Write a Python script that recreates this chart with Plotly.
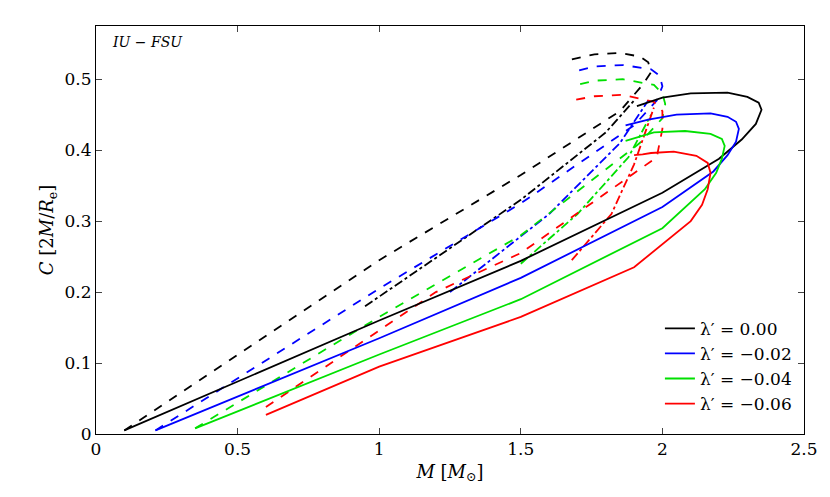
import plotly.graph_objects as go

labels = ["λ′ = 0.00", "λ′ = −0.02", "λ′ = −0.04", "λ′ = −0.06"]
colors = ["black", "blue", "#00e000", "red"]

# solid branches (M, C)
solid_m = [
    [0.10, 1.0, 1.5, 2.0, 2.2, 2.28, 2.33, 2.35, 2.34, 2.30, 2.23, 2.10, 2.00, 1.91],
    [0.21, 1.0, 1.5, 2.0, 2.18, 2.23, 2.26, 2.27, 2.26, 2.23, 2.17, 2.05, 1.95, 1.87],
    [0.35, 1.0, 1.5, 2.0, 2.15, 2.19, 2.21, 2.22, 2.21, 2.17, 2.08, 1.97, 1.92, 1.87],
    [0.60, 1.0, 1.5, 1.9, 2.10, 2.14, 2.16, 2.17, 2.16, 2.12, 2.04, 1.96, 1.93, 1.90],
]
solid_c = [
    [0.005, 0.160, 0.244, 0.340, 0.388, 0.415, 0.437, 0.457, 0.467, 0.475, 0.481, 0.480, 0.474, 0.462],
    [0.005, 0.135, 0.220, 0.320, 0.370, 0.393, 0.412, 0.430, 0.440, 0.447, 0.452, 0.450, 0.443, 0.435],
    [0.008, 0.112, 0.190, 0.290, 0.345, 0.368, 0.388, 0.406, 0.416, 0.423, 0.427, 0.425, 0.419, 0.413],
    [0.027, 0.095, 0.165, 0.235, 0.300, 0.323, 0.345, 0.368, 0.382, 0.392, 0.398, 0.396, 0.394, 0.393],
]
# dashed branches
dash_m = [
    [0.10, 1.0, 1.5, 1.85, 1.93, 1.96, 1.95, 1.92, 1.85, 1.76, 1.68],
    [0.21, 1.0, 1.5, 1.90, 1.98, 2.00, 1.99, 1.96, 1.86, 1.76, 1.68],
    [0.35, 1.0, 1.5, 1.92, 2.00, 2.01, 2.00, 1.97, 1.86, 1.76, 1.68],
    [0.60, 1.2, 1.5, 1.80, 1.98, 2.00, 2.00, 1.97, 1.86, 1.76, 1.68],
]
dash_c = [
    [0.005, 0.245, 0.365, 0.455, 0.492, 0.510, 0.524, 0.532, 0.537, 0.535, 0.528],
    [0.005, 0.205, 0.325, 0.435, 0.470, 0.490, 0.505, 0.514, 0.520, 0.518, 0.510],
    [0.008, 0.165, 0.280, 0.410, 0.445, 0.465, 0.480, 0.492, 0.500, 0.498, 0.490],
    [0.038, 0.200, 0.255, 0.340, 0.390, 0.430, 0.455, 0.468, 0.478, 0.476, 0.470],
]
# dash-dot branches
dd_m = [
    [0.95, 1.5, 1.80, 1.90],
    [1.25, 1.6, 1.85, 1.95],
    [1.50, 1.7, 1.88, 1.96],
    [1.68, 1.82, 1.90, 1.97],
]
dd_c = [
    [0.180, 0.330, 0.425, 0.470],
    [0.200, 0.310, 0.410, 0.470],
    [0.240, 0.310, 0.390, 0.450],
    [0.245, 0.310, 0.380, 0.460],
]

fig = go.Figure()
for i in range(4):
    fig.add_trace(go.Scatter(x=dash_m[i], y=dash_c[i], mode="lines",
                             line=dict(color=colors[i], width=1.8, dash="dash"), showlegend=False))
    fig.add_trace(go.Scatter(x=dd_m[i], y=dd_c[i], mode="lines",
                             line=dict(color=colors[i], width=1.8, dash="dashdot"), showlegend=False))
for i in range(4):
    fig.add_trace(go.Scatter(x=solid_m[i], y=solid_c[i], mode="lines",
                             line=dict(color=colors[i], width=1.8), name=labels[i]))

fig.add_annotation(x=0.02, y=0.985, xref="paper", yref="paper", showarrow=False,
                   text="<i>IU − FSU</i>", xanchor="left", yanchor="top",
                   font=dict(size=14, family="DejaVu Serif", color="black"))

ax = dict(showline=True, linecolor="black", linewidth=1, mirror="ticks", ticks="inside",
          ticklen=6, showgrid=False, zeroline=False,
          tickfont=dict(size=17, family="DejaVu Serif", color="black"))
fig.update_xaxes(range=[0, 2.5], dtick=0.5, title=dict(text="<i>M</i> [<i>M</i><sub>⊙</sub>]",
                 font=dict(size=18, family="DejaVu Serif", color="black"), standoff=6), **ax)
fig.update_yaxes(range=[0, 0.575], dtick=0.1, title=dict(text="<i>C</i> [2<i>M</i>/<i>R</i><sub>e</sub>]",
                 font=dict(size=18, family="DejaVu Serif", color="black"), standoff=6), **ax)
fig.update_layout(width=830, height=497, margin=dict(l=88, r=34, t=18, b=71),
                  plot_bgcolor="white", paper_bgcolor="white",
                  legend=dict(x=0.99, y=0.03, xanchor="right", yanchor="bottom",
                              font=dict(size=17, family="DejaVu Serif", color="black"),
                              bgcolor="rgba(0,0,0,0)"))
fig.write_html("out.html")
